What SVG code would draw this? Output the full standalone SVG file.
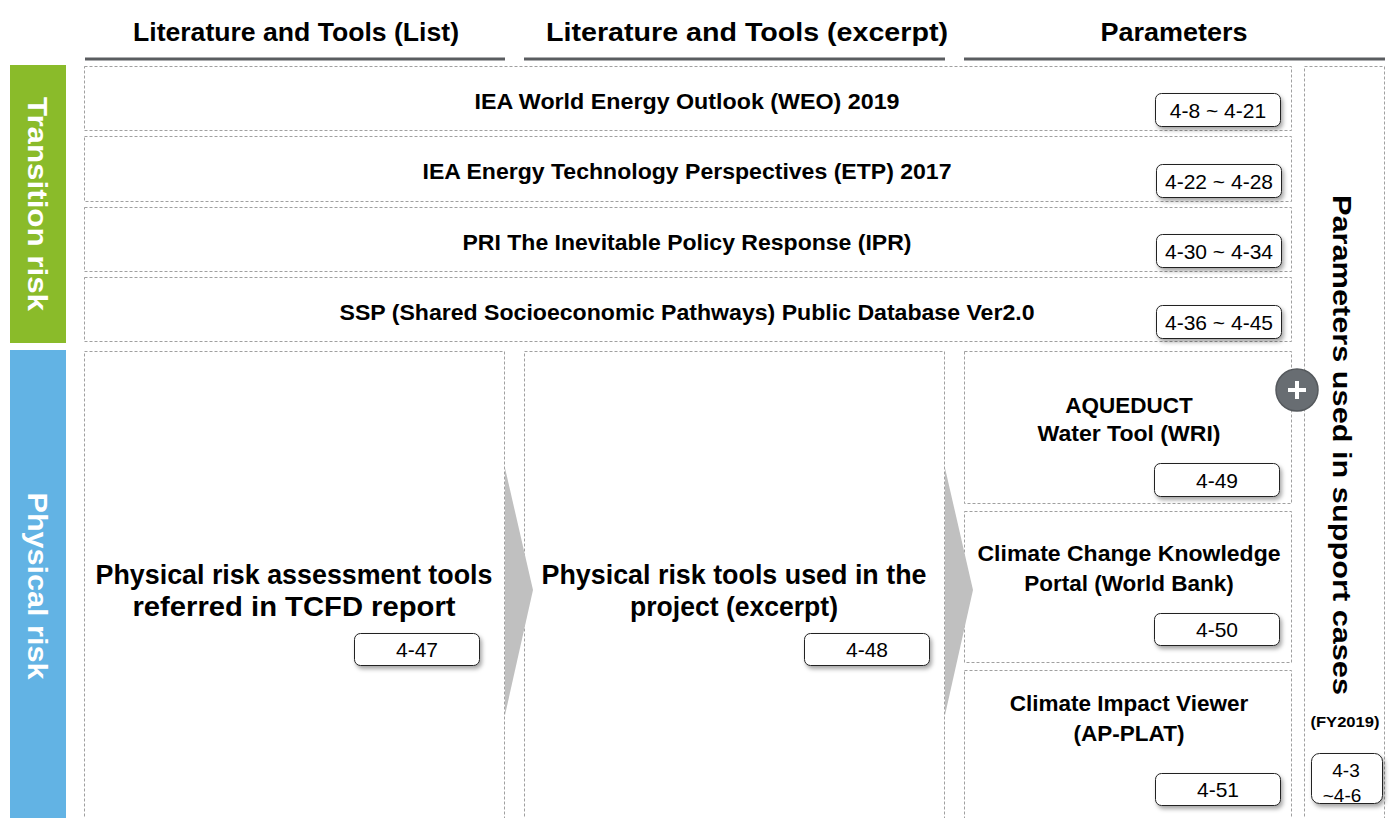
<svg xmlns="http://www.w3.org/2000/svg" width="1391" height="818" viewBox="0 0 1391 818">
<style>
text{font-family:"Liberation Sans",Arial,sans-serif;}
.hdr{font-size:25px;font-weight:bold;fill:#000;text-anchor:middle;}
.hl{stroke:#5a5d60;stroke-width:3;}
.box{fill:#fff;stroke:#a0a0a0;stroke-width:1;stroke-dasharray:3,2;}
.t23{font-size:22.5px;font-weight:bold;fill:#000;text-anchor:middle;}
.t27{font-size:27px;font-weight:bold;fill:#000;text-anchor:middle;}
.side{font-size:27px;font-weight:bold;fill:#fff;text-anchor:middle;}
.lbl{fill:#fff;stroke:#222;stroke-width:1;filter:url(#sh);}
.lt{font-size:21px;fill:#000;text-anchor:middle;}
.arr{fill:#c0c0c0;}
</style>
<defs>
<filter id="sh" x="-10%" y="-20%" width="130%" height="160%">
<feDropShadow dx="2" dy="3" stdDeviation="2" flood-color="#000" flood-opacity="0.35"/>
</filter>
</defs>
<rect width="1391" height="818" fill="#fff"/>

<g id="headers">
<text class="hdr" x="296" y="41" textLength="326" lengthAdjust="spacingAndGlyphs">Literature and Tools (List)</text>
<text class="hdr" x="747" y="41" textLength="402" lengthAdjust="spacingAndGlyphs">Literature and Tools (excerpt)</text>
<text class="hdr" x="1174" y="41" textLength="147" lengthAdjust="spacingAndGlyphs">Parameters</text>
<line class="hl" x1="85" y1="59" x2="505" y2="59"/>
<line class="hl" x1="524" y1="59" x2="945" y2="59"/>
<line class="hl" x1="964" y1="59" x2="1385" y2="59"/>
</g>

<g id="transition-risk">
<rect x="10" y="65" width="56" height="278" fill="#8abb2a"/>
<text class="side" transform="translate(28,204) rotate(90)" textLength="214" lengthAdjust="spacingAndGlyphs">Transition risk</text>
</g>
<g id="physical-risk">
<rect x="10" y="350" width="56" height="468" fill="#62b3e4"/>
<text class="side" transform="translate(28,586) rotate(90)" textLength="187" lengthAdjust="spacingAndGlyphs">Physical risk</text>
</g>

<g id="weo">
<rect class="box" x="84.5" y="66.5" width="1207" height="64"/>
<text class="t23" x="687" y="109" textLength="425" lengthAdjust="spacingAndGlyphs">IEA World Energy Outlook (WEO) 2019</text>
<rect class="lbl" x="1155.5" y="93.5" width="125" height="33" rx="6"/>
<text class="lt" x="1218" y="117.5">4-8 ~ 4-21</text>
</g>
<g id="etp">
<rect class="box" x="84.5" y="136.5" width="1207" height="65"/>
<text class="t23" x="687" y="179" textLength="529" lengthAdjust="spacingAndGlyphs">IEA Energy Technology Perspectives (ETP) 2017</text>
<rect class="lbl" x="1156.5" y="164.5" width="125" height="33" rx="6"/>
<text class="lt" x="1219" y="188.5">4-22 ~ 4-28</text>
</g>
<g id="ipr">
<rect class="box" x="84.5" y="207.5" width="1207" height="64"/>
<text class="t23" x="687" y="250" textLength="449" lengthAdjust="spacingAndGlyphs">PRI The Inevitable Policy Response (IPR)</text>
<rect class="lbl" x="1156.5" y="234.5" width="125" height="33" rx="6"/>
<text class="lt" x="1219" y="258.5">4-30 ~ 4-34</text>
</g>
<g id="ssp">
<rect class="box" x="84.5" y="277.5" width="1207" height="64"/>
<text class="t23" x="687" y="320" textLength="695" lengthAdjust="spacingAndGlyphs">SSP (Shared Socioeconomic Pathways) Public Database Ver2.0</text>
<rect class="lbl" x="1156.5" y="305.5" width="125" height="33" rx="6"/>
<text class="lt" x="1219" y="329.5">4-36 ~ 4-45</text>
</g>

<g id="params-col">
<rect class="box" x="1304.5" y="66.5" width="80" height="760"/>
<text transform="translate(1333,445) rotate(90)" textLength="500" lengthAdjust="spacingAndGlyphs" style="font-size:26px;font-weight:bold;fill:#000;text-anchor:middle;">Parameters used in support cases</text>
<text x="1345" y="727" textLength="69" lengthAdjust="spacingAndGlyphs" style="font-size:15px;font-weight:bold;fill:#000;text-anchor:middle;">(FY2019)</text>
<rect class="lbl" x="1311.5" y="753.5" width="71" height="50" rx="8"/>
<text class="lt" x="1346" y="777" style="font-size:19px">4-3</text>
<text class="lt" x="1342" y="802" style="font-size:19px">~4-6</text>
</g>

<g id="tcfd-tools">
<rect class="box" x="84.5" y="351.5" width="420" height="480"/>
<text class="t27" x="294" y="584" textLength="397" lengthAdjust="spacingAndGlyphs">Physical risk assessment tools</text>
<text class="t27" x="294" y="616" textLength="323" lengthAdjust="spacingAndGlyphs">referred in TCFD report</text>
<rect class="lbl" x="354.5" y="633.5" width="125" height="32" rx="6"/>
<text class="lt" x="417" y="657">4-47</text>
</g>
<g id="project-tools">
<rect class="box" x="524.5" y="351.5" width="420" height="480"/>
<text class="t27" x="734" y="584" textLength="385" lengthAdjust="spacingAndGlyphs">Physical risk tools used in the</text>
<text class="t27" x="734" y="616" textLength="208" lengthAdjust="spacingAndGlyphs">project (excerpt)</text>
<rect class="lbl" x="804.5" y="633.5" width="125" height="32" rx="6"/>
<text class="lt" x="867" y="657">4-48</text>
</g>

<g id="aqueduct">
<rect class="box" x="964.5" y="351.5" width="327" height="152"/>
<text class="t23" x="1129" y="413">AQUEDUCT</text>
<text class="t23" x="1129" y="441" textLength="183" lengthAdjust="spacingAndGlyphs">Water Tool (WRI)</text>
<rect class="lbl" x="1154.5" y="463.5" width="125" height="33" rx="6"/>
<text class="lt" x="1217" y="487.5">4-49</text>
</g>
<g id="cckp">
<rect class="box" x="964.5" y="511.5" width="327" height="151"/>
<text class="t23" x="1129" y="561" textLength="303" lengthAdjust="spacingAndGlyphs">Climate Change Knowledge</text>
<text class="t23" x="1129" y="591">Portal (World Bank)</text>
<rect class="lbl" x="1154.5" y="613.5" width="125" height="32" rx="6"/>
<text class="lt" x="1217" y="636.5">4-50</text>
</g>
<g id="civ">
<rect class="box" x="964.5" y="670.5" width="327" height="160"/>
<text class="t23" x="1129" y="711">Climate Impact Viewer</text>
<text class="t23" x="1129" y="741">(AP-PLAT)</text>
<rect class="lbl" x="1155.5" y="773.5" width="125" height="32" rx="6"/>
<text class="lt" x="1218" y="796.5">4-51</text>
</g>

<g id="plus">
<circle cx="1297" cy="390" r="21" fill="#686d72" stroke="#55595d" stroke-width="1.5"/>
<path d="M1297 381v18M1288 390h18" stroke="#fff" stroke-width="4"/>
</g>

<g id="connectors">
<polygon class="arr" points="505,468 533,590 505,715"/>
<polygon class="arr" points="945,468 973,590 945,715"/>
</g>
</svg>
